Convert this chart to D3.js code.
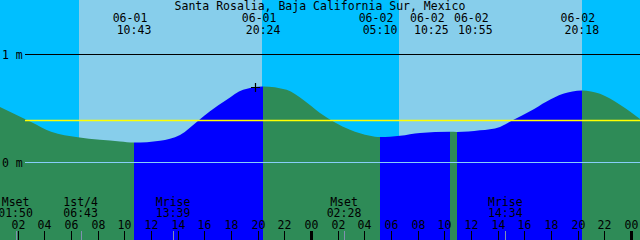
<!DOCTYPE html>
<html>
<head>
<meta charset="utf-8">
<script src="https://cdn.jsdelivr.net/npm/d3@7"></script>
<style>
body { margin: 0; background: #fff; }
svg { display: block; }
text { font-family: "DejaVu Sans Mono", monospace; font-size: 11.5px; fill: #000; }
</style>
</head>
<body>
<div class="tide"></div>
<script>
var title = "Santa Rosalia, Baja California Sur, Mexico";

// tide level, metres
var tideTimes = ["06-01 00:40", "06-01 03:00", "06-01 04:30", "06-01 06:30", "06-01 08:10",
  "06-01 09:40", "06-01 10:43", "06-01 12:40", "06-01 14:10", "06-01 15:36", "06-01 16:25",
  "06-01 17:40", "06-01 18:54", "06-01 20:24", "06-01 22:10", "06-01 23:24", "06-02 00:40",
  "06-02 02:55", "06-02 04:25", "06-02 05:10", "06-02 06:40", "06-02 08:10", "06-02 10:25",
  "06-02 10:55", "06-02 12:40", "06-02 14:10", "06-02 15:09", "06-02 16:25", "06-02 17:40",
  "06-02 18:54", "06-02 20:18", "06-02 21:40", "06-02 23:10", "06-03 00:40"];
var tideLevels = [0.51, 0.37, 0.28, 0.23, 0.205,
  0.19, 0.18, 0.197, 0.25, 0.389, 0.469,
  0.577, 0.669, 0.70, 0.669, 0.577, 0.454,
  0.299, 0.243, 0.231, 0.243, 0.269, 0.28,
  0.278, 0.293, 0.325, 0.389, 0.469, 0.561,
  0.632, 0.663, 0.632, 0.53, 0.398];

// highs and lows
var extremeTimes = ["06-01 10:43", "06-01 20:24", "06-02 05:10", "06-02 10:25", "06-02 10:55", "06-02 20:18"];
var extremeKinds = ["low", "high", "low", "high", "low", "high"];

var sunriseTimes = ["06-01 06:36", "06-02 06:36"];
var sunsetTimes = ["06-01 20:20", "06-02 20:18"];

var moonNames = ["Mset", "1st/4", "Mrise", "Mset", "Mrise"];
var moonTimes = ["06-01 01:50", "06-01 06:43", "06-01 13:39", "06-02 02:28", "06-02 14:34"];

var levelTicks = [1, 0];
var levelLabels = ["1 m", "0 m"];
var meanLevel = 0.39;
var markTime = "06-01 19:48";
var markLevel = 0.69;
var startTime = "06-01 00:40";
var endTime = "06-03 00:40";

var W = 640, H = 240;
var parse = d3.utcParse("%m-%d %H:%M");

var x = d3.scaleUtc().domain([parse(startTime), parse(endTime)]).range([0, W]);
var y = d3.scaleLinear().domain([0, 1]).range([162, 54]);

var tide = tideTimes.map(function(t, i) { return { t: parse(t), v: tideLevels[i] }; });

var svg = d3.select(".tide").append("svg")
  .attr("width", W)
  .attr("height", H);

// night sky, then daylight
svg.append("rect").attr("width", W).attr("height", H).attr("fill", "#00bfff");
sunriseTimes.forEach(function(s, i) {
  var x0 = Math.round(x(parse(s))), x1 = Math.round(x(parse(sunsetTimes[i])));
  svg.append("rect")
    .attr("x", x0).attr("y", 0)
    .attr("width", x1 - x0).attr("height", H)
    .attr("fill", "#87ceeb");
});

// water, coloured by flood / ebb between the extremes
var area = d3.area()
  .x(function(d) { return x(d.t); })
  .y0(H)
  .y1(function(d) { return y(d.v); })
  .curve(d3.curveMonotoneX);

var bounds = [0].concat(extremeTimes.map(function(t) { return Math.round(x(parse(t))); }), [W]);
var defs = svg.append("defs");
for (var i = 0; i < bounds.length - 1; i++) {
  var kind = i < extremeKinds.length ? extremeKinds[i] : (extremeKinds[i - 1] == "high" ? "low" : "high");
  defs.append("clipPath").attr("id", "seg" + i)
    .append("rect")
    .attr("x", bounds[i]).attr("y", 0)
    .attr("width", bounds[i + 1] - bounds[i]).attr("height", H);
  svg.append("path")
    .datum(tide)
    .attr("clip-path", "url(#seg" + i + ")")
    .attr("fill", kind == "high" ? "#0000ff" : "#2e8b57")
    .attr("d", area);
}

// level lines
levelTicks.forEach(function(v, i) {
  var yy = Math.round(y(v)) + 0.5;
  svg.append("line")
    .attr("x1", 25).attr("x2", W).attr("y1", yy).attr("y2", yy)
    .attr("stroke", v == 0 ? "#87cefa" : "#000")
    .attr("stroke-width", 1.2);
  svg.append("text")
    .attr("x", 2).attr("y", yy + 4)
    .text(levelLabels[i]);
});
svg.append("line")
  .attr("x1", 25).attr("x2", W)
  .attr("y1", Math.round(y(meanLevel)) + 0.5).attr("y2", Math.round(y(meanLevel)) + 0.5)
  .attr("stroke", "#ffff00")
  .attr("stroke-width", 1.5);

// mark
var mx = Math.round(x(parse(markTime))) + 0.5, my = Math.round(y(markLevel)) + 0.5;
svg.append("path")
  .attr("d", "M" + (mx - 4.5) + "," + my + "H" + (mx + 4.5) + "M" + mx + "," + (my - 4.5) + "V" + (my + 4.5))
  .attr("stroke", "#000")
  .attr("stroke-width", 1.2);

// title
svg.append("text")
  .attr("x", W / 2).attr("y", 10)
  .attr("text-anchor", "middle")
  .text(title);

// extreme labels, pushed apart where they would overlap
var labX = extremeTimes.map(function(t) { return x(parse(t)); });
for (var j = 1; j < labX.length; j++) {
  if (labX[j] - labX[j - 1] < 40) {
    var mid = (labX[j] + labX[j - 1]) / 2;
    labX[j - 1] = mid - 22;
    labX[j] = mid + 22;
  }
}
extremeTimes.forEach(function(t, i) {
  var p = t.split(" ");
  svg.append("text")
    .attr("x", labX[i] - 4).attr("y", 22)
    .attr("text-anchor", "middle")
    .text(p[0]);
  svg.append("text")
    .attr("x", labX[i]).attr("y", 34)
    .attr("text-anchor", "middle")
    .text(p[1]);
});

// moon events
moonTimes.forEach(function(t, i) {
  var mxx = x(parse(t));
  svg.append("text")
    .attr("x", mxx).attr("y", 206)
    .attr("text-anchor", "middle")
    .text(moonNames[i]);
  svg.append("text")
    .attr("x", mxx).attr("y", 217)
    .attr("text-anchor", "middle")
    .text(t.split(" ")[1]);
  svg.append("line")
    .attr("x1", Math.round(mxx) + 0.5).attr("x2", Math.round(mxx) + 0.5)
    .attr("y1", 231).attr("y2", H)
    .attr("stroke", "#8090b0");
});

// hour axis
var hours = d3.utcHour.every(2).range(parse(startTime), parse(endTime));
hours.forEach(function(h) {
  var hx = Math.round(x(h));
  var midnight = h.getUTCHours() == 0;
  svg.append("line")
    .attr("x1", hx + 0.5).attr("x2", hx + 0.5)
    .attr("y1", 231).attr("y2", H)
    .attr("stroke", "#000")
    .attr("stroke-width", midnight ? 3 : 1);
  svg.append("text")
    .attr("x", hx + 0.5).attr("y", 229)
    .attr("text-anchor", "middle")
    .text(d3.utcFormat("%H")(h));
});
</script>
</body>
</html>
